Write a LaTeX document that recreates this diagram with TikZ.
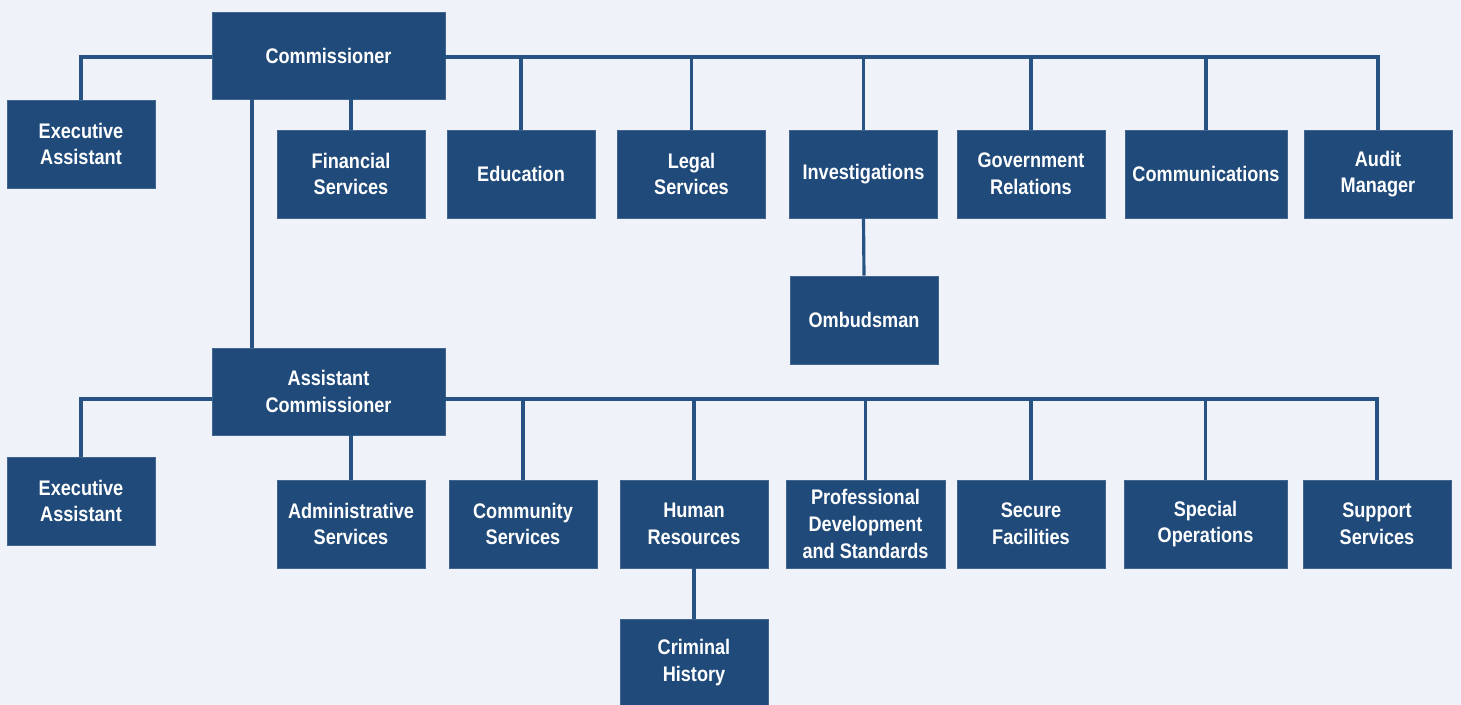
\documentclass[tikz,border=0pt]{standalone}
\usepackage{fontspec}
\setmainfont{Liberation Sans}[FakeStretch=0.86]
\usepackage{tikz}
\usetikzlibrary{positioning}
\definecolor{orgnavy}{RGB}{31,74,122}
\definecolor{orgline}{RGB}{38,82,132}
\definecolor{orgbg}{RGB}{239,243,249}
\tikzstyle{unit} = [rectangle, minimum width=2.96cm, minimum height=1.76cm, inner sep=0pt, align=center, fill=orgnavy, draw=orgnavy!85!white, thin, text=white, font=\bfseries\fontsize{12}{15.2}\selectfont]
\tikzstyle{head} = [unit, minimum width=4.66cm, minimum height=1.74cm]
\tikzstyle{link} = [line width=1.8pt, color=orgline]

\begin{document}
\begin{tikzpicture}[x=0.02cm, y=-0.02cm]
\fill[orgbg] (0,0) rectangle (1461,705);
\useasboundingbox (0,0) rectangle (1461,705);

% Commissioner and direct reports
\node (comm) [head] at (328.5,55.5) {Commissioner};
\node (execa) [unit] at (81,144) {Executive\\Assistant};
\node (fin) [unit] at (351,174) {Financial\\Services};
\node (edu) [unit] at (521,174) {Education};
\node (legal) [unit] at (691.5,174) {Legal\\Services};
\node (invest) [unit] at (863.5,174) {Investigations};
\node (govrel) [unit] at (1031,174) {Government\\Relations};
\node (comms) [unit, minimum width=3.24cm] at (1206,174) {Communications};
\node (audit) [unit] at (1378,174) {Audit\\Manager};
\node (ombud) [unit] at (864,320) {Ombudsman};

% Assistant Commissioner and direct reports
\node (asst) [head] at (328.5,391.5) {Assistant\\Commissioner};
\node (execb) [unit] at (81,501) {Executive\\Assistant};
\node (admin) [unit] at (351,524) {Administrative\\Services};
\node (commsvc) [unit] at (523,524) {Community\\Services};
\node (hr) [unit] at (694,524) {Human\\Resources};
\node (profdev) [unit, minimum width=3.18cm] at (865.5,524) {Professional\\Development\\and Standards};
\node (secure) [unit] at (1031,524) {Secure\\Facilities};
\node (specops) [unit, minimum width=3.26cm] at (1205.5,524) {Special\\Operations};
\node (support) [unit] at (1377,524) {Support\\Services};
\node (crim) [unit, minimum height=1.72cm] at (694,662.5) {Criminal\\History};

% Top level lines
\coordinate (commbus) at ([yshift=-0.03cm]comm.east);
\draw[link] (execa.north) |- ([yshift=-0.03cm]comm.west);
\draw[link] (commbus) -| (audit.north);
\draw[link] (fin.north) -- (fin.north |- comm.south);
\foreach \u in {edu,legal,invest,govrel,comms}
  \draw[link] (\u.north) -- (\u.north |- commbus);
\draw[link] (invest.south) -- (ombud.north);
\coordinate (trunk) at (252,99);
\draw[link] (trunk) -- (trunk |- asst.north);

% Second level lines
\coordinate (asstbus) at ([yshift=-0.15cm]asst.east);
\draw[link] (execb.north) |- ([yshift=-0.15cm]asst.west);
\draw[link] (asstbus) -| (support.north);
\draw[link] (admin.north) -- (admin.north |- asst.south);
\foreach \u in {commsvc,hr,profdev,secure,specops}
  \draw[link] (\u.north) -- (\u.north |- asstbus);
\draw[link] (hr.south) -- (crim.north);
\end{tikzpicture}
\end{document}
